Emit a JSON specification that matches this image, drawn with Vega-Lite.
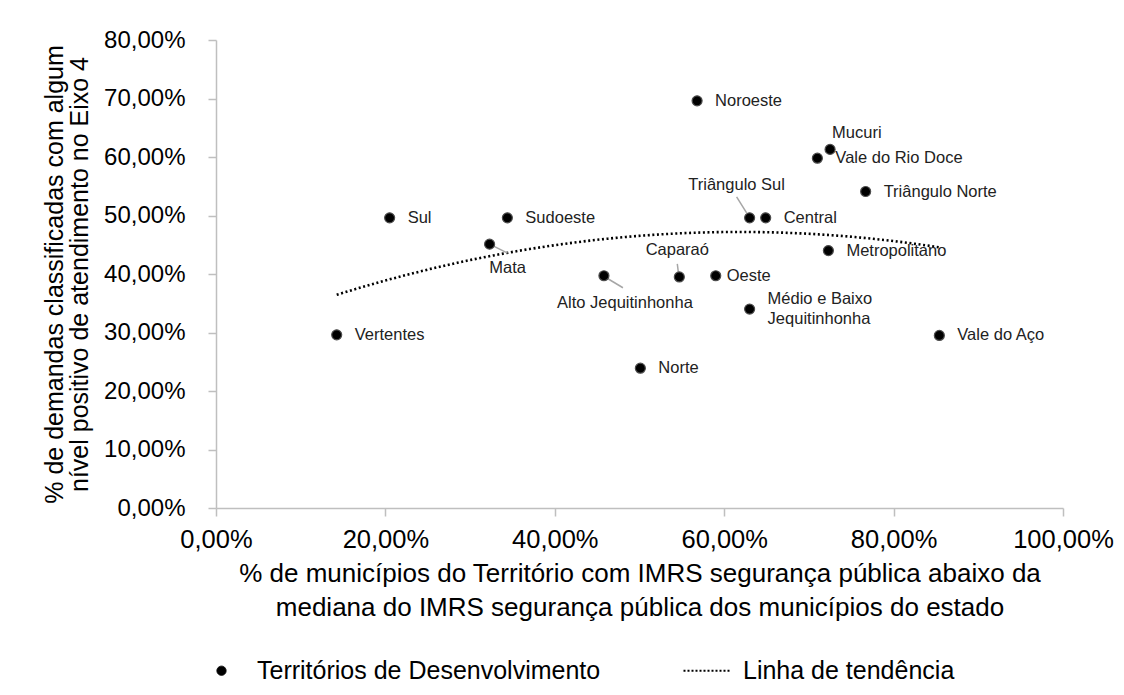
{
  "$schema": "https://vega.github.io/schema/vega-lite/v6.json",
  "width": 847,
  "height": 468,
  "autosize": "none",
  "padding": {"left": 216, "top": 40, "right": 61, "bottom": 187},
  "background": "white",
  "config": {
    "locale": {"number": {"decimal": ",", "thousands": ".", "grouping": [3], "currency": ["R$", ""]}},
    "font": "Liberation Sans",
    "view": {"stroke": null},
    "axis": {
      "grid": false,
      "domainColor": "#bfbfbf",
      "domainWidth": 1.5,
      "tickColor": "#bfbfbf",
      "tickWidth": 1.5,
      "tickSize": 8,
      "labelFontSize": 24,
      "labelColor": "#000000",
      "labelFont": "Liberation Sans",
      "labelFlush": false,
      "labelOverlap": false,
      "titleFont": "Liberation Sans",
      "titleFontSize": 22,
      "titleFontWeight": "normal",
      "titleColor": "#000000"
    }
  },
  "data": {
    "values": [
      {"nome": "Sul", "x": 0.205, "y": 0.496},
      {"nome": "Sudoeste", "x": 0.344, "y": 0.496},
      {"nome": "Mata", "x": 0.323, "y": 0.451},
      {"nome": "Vertentes", "x": 0.1425, "y": 0.296},
      {"nome": "Noroeste", "x": 0.568, "y": 0.696},
      {"nome": "Mucuri", "x": 0.725, "y": 0.613},
      {"nome": "Vale do Rio Doce", "x": 0.710, "y": 0.598},
      {"nome": "Triângulo Norte", "x": 0.767, "y": 0.541},
      {"nome": "Triângulo Sul", "x": 0.630, "y": 0.496},
      {"nome": "Central", "x": 0.649, "y": 0.496},
      {"nome": "Metropolitano", "x": 0.723, "y": 0.440},
      {"nome": "Alto Jequitinhonha", "x": 0.458, "y": 0.397},
      {"nome": "Caparaó", "x": 0.547, "y": 0.395},
      {"nome": "Oeste", "x": 0.590, "y": 0.397},
      {"nome": "Médio e Baixo\nJequitinhonha", "x": 0.630, "y": 0.340},
      {"nome": "Vale do Aço", "x": 0.854, "y": 0.295},
      {"nome": "Norte", "x": 0.501, "y": 0.239}
    ]
  },
  "encoding": {
    "x": {
      "field": "x", "type": "quantitative",
      "scale": {"domain": [0, 1], "nice": false, "zero": false},
      "axis": {
        "format": ".2%",
        "values": [0, 0.2, 0.4, 0.6, 0.8, 1],
        "labelFontSize": 25.5,
        "labelPadding": 11,
        "title": ["% de municípios do Território com IMRS segurança pública abaixo da", "mediana do IMRS segurança pública dos municípios do estado"],
        "titleFontSize": 26,
        "titleLineHeight": 34,
        "titlePadding": 8
      }
    },
    "y": {
      "field": "y", "type": "quantitative",
      "scale": {"domain": [0, 0.8], "nice": false},
      "axis": {
        "format": ".2%",
        "values": [0, 0.1, 0.2, 0.3, 0.4, 0.5, 0.6, 0.7, 0.8],
        "labelPadding": 23,
        "title": ["% de demandas classificadas com algum", "nível positivo de atendimento no Eixo 4"],
        "titleFontSize": 25,
        "titleLineHeight": 25,
        "titlePadding": 11
      }
    }
  },
  "layer": [
    {
      "transform": [{"regression": "y", "on": "x", "method": "poly", "order": 2}],
      "mark": {"type": "line", "strokeDash": [2, 2.6], "strokeWidth": 2.6, "color": "black"},
      "encoding": {
        "color": {
          "datum": "Linha de tendência",
          "scale": {"domain": ["Territórios de Desenvolvimento", "Linha de tendência"], "range": ["black", "black"]},
          "legend": {
            "title": null,
            "orient": "none",
            "direction": "horizontal",
            "legendX": -7,
            "legendY": 618,
            "labelFontSize": 25,
            "labelColor": "#000000",
            "labelFont": "Liberation Sans",
            "labelLimit": 600,
            "symbolSize": 2304,
            "labelOffset": 23,
            "columnPadding": 78,
            "symbolType": "stroke",
            "encode": {
              "symbols": {
                "update": {
                  "shape": {"signal": "datum.value === 'Linha de tendência' ? 'stroke' : 'circle'"},
                  "size": {"signal": "datum.value === 'Linha de tendência' ? 2304 : 85"},
                  "fill": {"signal": "datum.value === 'Linha de tendência' ? 'transparent' : 'black'"},
                  "stroke": {"value": "black"},
                  "strokeWidth": {"signal": "datum.value === 'Linha de tendência' ? 2 : 1"},
                  "strokeDash": {"signal": "datum.value === 'Linha de tendência' ? [2, 2] : [1, 0]"},
                  "opacity": {"value": 1}
                }
              }
            }
          }
        }
      }
    },
    {
      "transform": [{"filter": "datum.nome === 'Triângulo Sul'"}],
      "mark": {"type": "rule", "color": "#a6a6a6", "strokeWidth": 1.5, "xOffset": -3, "yOffset": -5, "x2Offset": -13, "y2Offset": -21},
      "encoding": {"x2": {"field": "x"}, "y2": {"field": "y"}}
    },
    {
      "transform": [{"filter": "datum.nome === 'Caparaó'"}],
      "mark": {"type": "rule", "color": "#a6a6a6", "strokeWidth": 1.5, "xOffset": -1, "yOffset": -5, "x2Offset": -2, "y2Offset": -13},
      "encoding": {"x2": {"field": "x"}, "y2": {"field": "y"}}
    },
    {
      "transform": [{"filter": "datum.nome === 'Alto Jequitinhonha'"}],
      "mark": {"type": "rule", "color": "#a6a6a6", "strokeWidth": 1.5, "xOffset": 4, "yOffset": 3, "x2Offset": 19, "y2Offset": 12},
      "encoding": {"x2": {"field": "x"}, "y2": {"field": "y"}}
    },
    {
      "transform": [{"filter": "datum.nome === 'Mata'"}],
      "mark": {"type": "rule", "color": "#a6a6a6", "strokeWidth": 1.5, "xOffset": 2, "yOffset": 1, "x2Offset": 18, "y2Offset": 9},
      "encoding": {"x2": {"field": "x"}, "y2": {"field": "y"}}
    },
    {
      "mark": {"type": "point", "filled": true, "size": 100, "opacity": 1, "stroke": "#4d4d4d", "strokeWidth": 1.2},
      "encoding": {"color": {"datum": "Territórios de Desenvolvimento"}}
    },
    {
      "transform": [{"filter": "indexof(['Mucuri','Triângulo Sul','Caparaó','Oeste','Alto Jequitinhonha','Mata','Médio e Baixo\\nJequitinhonha'], datum.nome) < 0"}],
      "mark": {"type": "text", "align": "left", "baseline": "middle", "dx": 18, "fontSize": 16.5, "color": "#222222", "font": "Liberation Sans"},
      "encoding": {"text": {"field": "nome"}}
    },
    {
      "transform": [{"filter": "indexof(datum.nome, 'Baixo') >= 0"}],
      "mark": {"type": "text", "align": "left", "baseline": "middle", "dx": 18, "dy": -10, "fontSize": 16.5, "lineBreak": "\n", "lineHeight": 20, "color": "#222222", "font": "Liberation Sans"},
      "encoding": {"text": {"field": "nome"}}
    },
    {
      "transform": [{"filter": "datum.nome === 'Oeste'"}],
      "mark": {"type": "text", "align": "left", "baseline": "middle", "dx": 11, "fontSize": 16.5, "color": "#222222", "font": "Liberation Sans"},
      "encoding": {"text": {"field": "nome"}}
    },
    {
      "transform": [{"filter": "datum.nome === 'Mucuri'"}],
      "mark": {"type": "text", "align": "left", "baseline": "middle", "dx": 2, "dy": -16, "fontSize": 16.5, "color": "#222222", "font": "Liberation Sans"},
      "encoding": {"text": {"field": "nome"}}
    },
    {
      "transform": [{"filter": "datum.nome === 'Triângulo Sul'"}],
      "mark": {"type": "text", "align": "center", "baseline": "middle", "dx": -13, "dy": -33, "fontSize": 16.5, "color": "#222222", "font": "Liberation Sans"},
      "encoding": {"text": {"field": "nome"}}
    },
    {
      "transform": [{"filter": "datum.nome === 'Caparaó'"}],
      "mark": {"type": "text", "align": "center", "baseline": "middle", "dx": -2, "dy": -27, "fontSize": 16.5, "color": "#222222", "font": "Liberation Sans"},
      "encoding": {"text": {"field": "nome"}}
    },
    {
      "transform": [{"filter": "datum.nome === 'Alto Jequitinhonha'"}],
      "mark": {"type": "text", "align": "center", "baseline": "middle", "dx": 21, "dy": 27, "fontSize": 16.5, "color": "#222222", "font": "Liberation Sans"},
      "encoding": {"text": {"field": "nome"}}
    },
    {
      "transform": [{"filter": "datum.nome === 'Mata'"}],
      "mark": {"type": "text", "align": "center", "baseline": "middle", "dx": 18, "dy": 24, "fontSize": 16.5, "color": "#222222", "font": "Liberation Sans"},
      "encoding": {"text": {"field": "nome"}}
    }
  ]
}
